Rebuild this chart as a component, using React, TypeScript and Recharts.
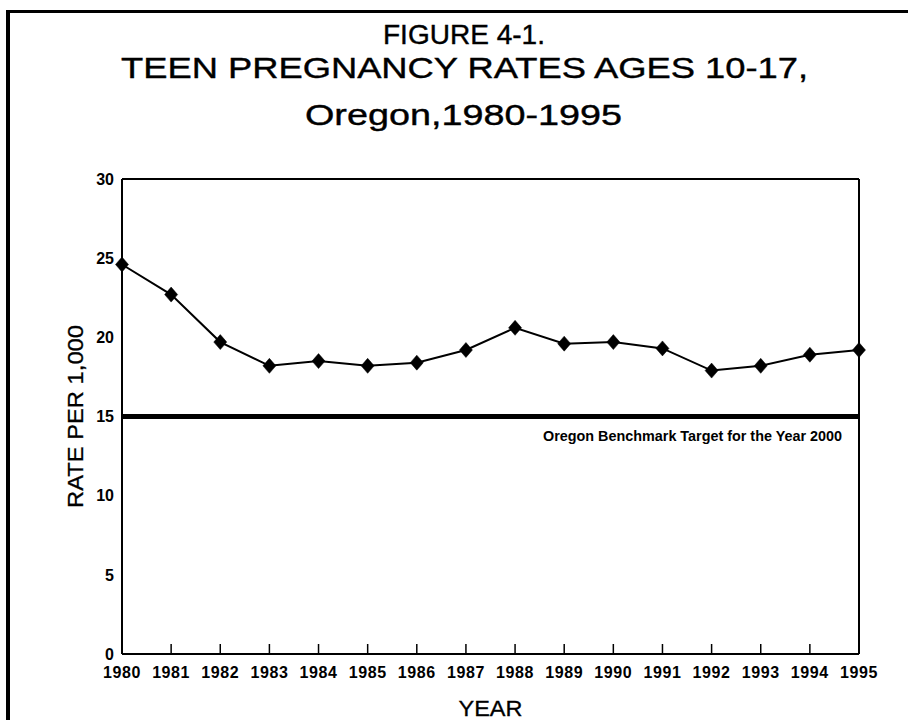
import React from 'react';
import { LineChart, Line, XAxis, YAxis, ReferenceLine, Label } from 'recharts';

const years = [1980, 1981, 1982, 1983, 1984, 1985, 1986, 1987, 1988, 1989, 1990, 1991, 1992, 1993, 1994, 1995];
const rates = [24.6, 22.7, 19.7, 18.2, 18.5, 18.2, 18.4, 19.2, 20.6, 19.6, 19.7, 19.3, 17.9, 18.2, 18.9, 19.2];
const yTicks = [0, 5, 10, 15, 20, 25, 30];
const benchmark = 15;
const titleLines = ['FIGURE 4-1.', 'TEEN PREGNANCY RATES AGES 10-17,', 'Oregon,1980-1995'];
const benchmarkLabel = 'Oregon Benchmark Target for the Year 2000';
const yLabel = 'RATE PER 1,000';
const xLabel = 'YEAR';

const data = years.map((y, i) => ({ year: y, rate: rates[i] }));

const FONT = '"Liberation Sans", Arial, Helvetica, sans-serif';
const TICK_GAP = 13;

const Diamond = (props: any) => {
  const { cx, cy } = props;
  if (cx == null || cy == null) return null;
  return (
    <polygon
      points={`${cx},${cy - 7.5} ${cx + 6.5},${cy} ${cx},${cy + 7.5} ${cx - 6.5},${cy}`}
      fill="#000"
      stroke="#000"
      strokeWidth={0.5}
    />
  );
};

const XTick = (props: any) => {
  const { x, y, payload } = props;
  const axisY = y - TICK_GAP;
  return (
    <g>
      <line x1={x} y1={axisY} x2={x} y2={axisY - 10} stroke="#000" strokeWidth={1.5} />
      <text
        x={x}
        y={y}
        dy="0.71em"
        textAnchor="middle"
        fontFamily={FONT}
        fontSize={16}
        fontWeight="bold"
        letterSpacing={0.6}
        fill="#000"
      >
        {payload.value}
      </text>
    </g>
  );
};

const YLabelContent = (props: any) => {
  const vb = props.viewBox || { x: 62, y: 179, width: 60, height: 475 };
  const x = vb.x + 21;
  const y = vb.y + vb.height / 2;
  return (
    <text
      x={x}
      y={y}
      transform={`rotate(-90, ${x}, ${y})`}
      textAnchor="middle"
      fontFamily={FONT}
      fontSize={22}
      fill="#000"
      stroke="#000"
      strokeWidth={0.3}
      textLength={183}
      lengthAdjust="spacingAndGlyphs"
    >
      {yLabel}
    </text>
  );
};

const XLabelContent = (props: any) => {
  const vb = props.viewBox || { x: 122, y: 654, width: 737, height: 30 };
  const x = vb.x + vb.width / 2;
  return (
    <text
      x={x}
      y={716}
      textAnchor="middle"
      fontFamily={FONT}
      fontSize={22}
      fill="#000"
      stroke="#000"
      strokeWidth={0.3}
      textLength={64}
      lengthAdjust="spacingAndGlyphs"
    >
      {xLabel}
    </text>
  );
};

const BenchLabelContent = (props: any) => {
  const vb = props.viewBox || { x: 122, y: 417, width: 737, height: 0 };
  return (
    <text
      x={vb.x + vb.width - 17}
      y={vb.y + 24}
      textAnchor="end"
      fontFamily={FONT}
      fontSize={14}
      fontWeight="bold"
      fill="#000"
      textLength={299}
      lengthAdjust="spacingAndGlyphs"
    >
      {benchmarkLabel}
    </text>
  );
};

export default function App() {
  return (
    <div style={{ position: 'absolute', left: 0, top: 0, width: 908, height: 720, background: '#fff', overflow: 'hidden' }}>
      <LineChart
        width={908}
        height={720}
        data={data}
        margin={{ top: 179, right: 49, bottom: 36, left: 62 }}
      >
        <XAxis
          dataKey="year"
          type="category"
          height={30}
          axisLine={{ stroke: '#000', strokeWidth: 2 }}
          tickLine={false}
          tickSize={0}
          tickMargin={TICK_GAP}
          tick={<XTick />}
          interval={0}
        >
          <Label content={XLabelContent} />
        </XAxis>
        <YAxis
          domain={[0, 30]}
          ticks={yTicks}
          width={60}
          axisLine={{ stroke: '#000', strokeWidth: 2 }}
          tickLine={false}
          tick={{ fill: '#000', fontSize: 16, fontWeight: 'bold', fontFamily: FONT }}
          interval={0}
        >
          <Label content={YLabelContent} />
        </YAxis>
        <ReferenceLine y={30} stroke="#000" strokeWidth={2} />
        <ReferenceLine x={1995} stroke="#000" strokeWidth={2} />
        <ReferenceLine y={benchmark} stroke="#000" strokeWidth={5} label={BenchLabelContent} />
        <Line
          dataKey="rate"
          stroke="#000"
          strokeWidth={2}
          dot={<Diamond />}
          activeDot={false}
          isAnimationActive={false}
        />
      </LineChart>
      <svg
        width={908}
        height={720}
        style={{ position: 'absolute', left: 0, top: 0, pointerEvents: 'none' }}
      >
        <line x1={8} y1={11.5} x2={908} y2={11.5} stroke="#000" strokeWidth={3} />
        <line x1={8} y1={10} x2={8} y2={720} stroke="#000" strokeWidth={4} />
        <text x={464} y={44} textAnchor="middle" fontFamily={FONT} fontSize={28} fill="#000" stroke="#000" strokeWidth={0.4} textLength={162} lengthAdjust="spacingAndGlyphs">
          {titleLines[0]}
        </text>
        <text x={464.5} y={78} textAnchor="middle" fontFamily={FONT} fontSize={30} fill="#000" stroke="#000" strokeWidth={0.4} textLength={687} lengthAdjust="spacingAndGlyphs">
          {titleLines[1]}
        </text>
        <text x={463.5} y={125} textAnchor="middle" fontFamily={FONT} fontSize={30} fill="#000" stroke="#000" strokeWidth={0.4} textLength={317} lengthAdjust="spacingAndGlyphs">
          {titleLines[2]}
        </text>
      </svg>
    </div>
  );
}
